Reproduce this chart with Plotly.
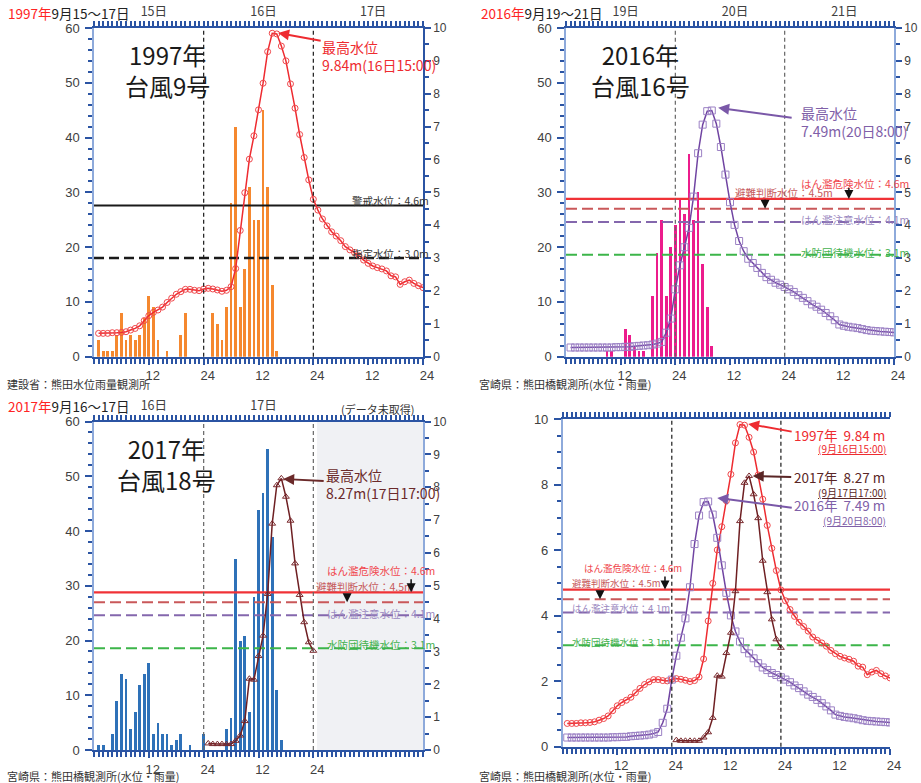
import plotly.graph_objects as go

W, H = 921, 783

# ---------------- data ----------------
hours = list(range(1, 73))
hours_2017 = list(range(25, 49))

level_1997 = [0.71, 0.71, 0.71, 0.73, 0.73, 0.74, 0.76, 0.81, 0.86, 0.94,
              1.10, 1.25, 1.35, 1.42, 1.51, 1.65, 1.78, 1.90, 1.98, 2.05,
              2.05, 2.02, 2.01, 2.06, 2.08, 2.06, 2.03, 1.99, 2.02, 2.13,
              2.68, 3.84, 4.99, 6.01, 6.72, 7.51, 8.32, 9.28, 9.84, 9.82,
              9.45, 9.00, 8.30, 7.56, 6.76, 6.06, 5.38, 4.79, 4.46, 4.19,
              3.98, 3.80, 3.67, 3.53, 3.35, 3.25, 3.17, 3.07, 2.94, 2.84,
              2.76, 2.71, 2.67, 2.61, 2.46, 2.43, 2.20, 2.28, 2.33, 2.23,
              2.16, 2.10]

level_2016 = [0.28, 0.28, 0.28, 0.28, 0.28, 0.28, 0.28, 0.28, 0.28, 0.28,
              0.29, 0.29, 0.30, 0.30, 0.32, 0.33, 0.34, 0.35, 0.37, 0.40,
              0.45, 0.73, 1.16, 2.05, 2.78, 3.33, 3.92, 4.87, 6.19, 7.06,
              7.47, 7.49, 7.09, 6.38, 5.54, 4.70, 4.01, 3.52, 3.21, 2.98,
              2.85, 2.70, 2.55, 2.42, 2.34, 2.25, 2.19, 2.12, 2.05, 1.97,
              1.87, 1.79, 1.69, 1.59, 1.52, 1.43, 1.33, 1.23, 1.11, 0.98,
              0.94, 0.91, 0.89, 0.87, 0.84, 0.81, 0.79, 0.78, 0.77, 0.76,
              0.75, 0.74]

level_2017 = [0.20, 0.18, 0.18, 0.18, 0.18, 0.18, 0.28, 0.44, 0.88, 2.17,
              2.14, 2.86, 3.48, 4.75, 6.89, 8.06, 8.27, 7.71, 6.98, 5.68,
              4.72, 3.89, 3.28, 3.02]

rain_1997 = [3, 1, 1, 1, 4, 8, 3, 4, 3, 4,
             7, 11, 9, 3, 0, 1, 0, 0, 4, 8,
             0, 0, 0, 0, 0, 8, 6, 3, 9, 28,
             42, 9, 16, 31, 25, 25, 45, 31, 13, 1,
             0, 0, 0, 0, 0, 0, 0, 0, 0, 0,
             0, 0, 0, 0, 0, 0, 0, 0, 0, 0,
             0, 0, 0, 0, 0, 0, 0, 0, 0, 0,
             0, 0]

rain_2016 = [0, 0, 0, 0, 0, 0, 0, 0, 1, 1,
             0, 0, 5, 4, 2, 1, 1, 0, 11, 19,
             25, 11, 20, 24, 29, 26, 37, 25, 30, 17,
             9, 2, 0, 0, 0, 0, 0, 0, 0, 0,
             0, 0, 0, 0, 0, 0, 0, 0, 0, 0,
             0, 0, 0, 0, 0, 0, 0, 0, 0, 0,
             0, 0, 0, 0, 0, 0, 0, 0, 0, 0,
             0, 0]

rain_2017 = [1, 1, 0, 3, 9, 14, 13, 4, 7, 12,
             14, 16, 3, 5, 3, 3, 1, 2, 3, 0,
             1, 0, 0, 3, 0, 0, 0, 0, 4, 6,
             35, 20, 21, 7, 28, 44, 47, 55, 39, 11,
             2, 0, 0, 0, 0, 0, 0, 0, 0, 0,
             0, 0, 0, 0, 0, 0, 0, 0, 0, 0,
             0, 0, 0, 0, 0, 0, 0, 0, 0, 0,
             0, 0]

x_range = [0, 72]
hour_tick_vals = [12, 24, 36, 48, 60, 72]
hour_tick_text = ["12", "24", "12", "24", "12", "24"]
hour_tick_vals_2017 = [12, 24, 36, 48]
hour_tick_text_2017 = ["12", "24", "12", "24"]
day_tick_vals = [12, 36, 60]
days_1997 = ["15日", "16日", "17日"]
days_2016 = ["19日", "20日", "21日"]
days_2017 = ["16日", "17日", ""]
day_boundaries = [24, 48]
rain_range = [0, 60]
level_range = [0, 10]

lines_1997 = [4.6, 3.0]                 # 警戒水位, 指定水位
lines_kumata = [4.8, 4.5, 4.1, 3.1]     # はん濫危険, 避難判断, はん濫注意, 水防団待機
no_data_start_2017 = 48.8

# ---------------- styles ----------------
BLUE = "#2b54a3"
LBLUE = "#8eaadb"
RED = "#ee2b30"
PURPLE = "#7044a2"
PURPLE_MK = "#9b80c4"
MAROON = "#6e1f22"
ORANGE = "#f5882f"
MAGENTA = "#ec1c8c"
BARBLUE = "#2e71b8"
JP = "Noto Sans CJK JP"
TICKFONT = dict(family="Liberation Sans, Arial, sans-serif", size=13, color="#404040")
RTICKFONT = dict(family="Liberation Sans, Arial, sans-serif", size=12, color="#404040")

kumata_line_styles = [
    dict(color="#f03236", width=2.2, dash="solid"),
    dict(color="#c9585a", width=2, dash="11px,5px"),
    dict(color="#8467ad", width=2, dash="11px,5px"),
    dict(color="#3cb54a", width=2, dash="11px,5px"),
]
line_1997_styles = [
    dict(color="#1a1a1a", width=2, dash="solid"),
    dict(color="#1a1a1a", width=2.5, dash="10px,5px"),
]


def xn(n):
    return "x" if n == 1 else f"x{n}"


def yn(n):
    return "y" if n == 1 else f"y{n}"


def key(letter, n):
    return f"{letter}axis" if n == 1 else f"{letter}axis{n}"


fig = go.Figure()
layout = dict(width=W, height=H, autosize=False,
              margin=dict(l=0, r=0, t=0, b=0, pad=0, autoexpand=False),
              paper_bgcolor="white", plot_bgcolor="white", showlegend=False,
              bargap=0)
shapes = []
annotations = []


def minor(dtick, ln):
    return dict(ticks="outside", tickmode="linear", tick0=0, dtick=dtick,
                ticklen=ln, tickwidth=2, tickcolor=BLUE, showgrid=False)


def setup_panel(p, box, left, right, top_text, vcolor, right_line,
                tvals=hour_tick_vals, ttext=hour_tick_text):
    bx, tx, ly, ry = 2 * p - 1, 2 * p, 2 * p - 1, 2 * p
    x0, y0, x1, y1 = box
    layout[key("x", bx)] = dict(
        domain=[x0 / W, x1 / W], anchor=yn(ly), range=x_range,
        tickmode="array", tickvals=tvals, ticktext=ttext,
        ticks="outside", ticklen=6, tickwidth=2, tickcolor=BLUE,
        minor=minor(1, 5), showline=True, linecolor=BLUE, linewidth=2,
        showgrid=False, zeroline=False, tickfont=TICKFONT, ticklabelshift=4,
        fixedrange=True, automargin=False)
    layout[key("x", tx)] = dict(
        overlaying=xn(bx), side="top", anchor=yn(ly), range=x_range,
        tickmode="array", tickvals=day_tick_vals, ticktext=top_text,
        showticklabels=top_text is not None,
        ticks="outside", ticklen=5, tickwidth=2, tickcolor=BLUE,
        minor=minor(1, 5), showline=True, linecolor=BLUE, linewidth=2,
        showgrid=False, zeroline=False,
        tickfont=dict(family=JP, size=12.5, color="#404040"), ticklabelshift=5,
        fixedrange=True, automargin=False)
    layout[key("y", ly)] = dict(
        domain=[1 - y1 / H, 1 - y0 / H], anchor=xn(bx), range=left["range"],
        tickmode="linear", tick0=0, dtick=left["dtick"], ticks="outside",
        ticklen=7, tickwidth=2, tickcolor=BLUE, minor=minor(left["minor"], 4),
        showline=True, linecolor=LBLUE, linewidth=1.5, showgrid=False,
        zeroline=False, tickfont=TICKFONT, ticklabelstandoff=3, fixedrange=True,
        automargin=False)
    layout[key("y", ry)] = dict(
        overlaying=yn(ly), side="right", anchor=xn(bx), range=right["range"],
        tickmode="linear", tick0=0, dtick=right["dtick"], ticks="outside",
        ticklen=6, tickwidth=2, tickcolor=BLUE, minor=minor(right["minor"], 4),
        showticklabels=right["labels"],
        showline=True, linecolor=right_line, linewidth=1.5, showgrid=False,
        zeroline=False, tickfont=RTICKFONT, fixedrange=True, automargin=False)
    for d in day_boundaries:
        shapes.append(dict(type="line", xref=xn(bx), yref=f"{yn(ly)} domain",
                           x0=d, x1=d, y0=0, y1=1, layer="above",
                           line=dict(color=vcolor, width=1.2, dash="4px,3px")))
    # keep top axis bound to a trace
    fig.add_trace(go.Scatter(x=[], y=[], xaxis=xn(tx), yaxis=yn(ly),
                             hoverinfo="skip", showlegend=False))
    return bx, ly, ry


RAIN_L = dict(range=rain_range, dtick=10, minor=2)
LEVEL_R = dict(range=level_range, dtick=1, minor=0.5, labels=True)


def thresholds(bx, yax, values, styles):
    for v, st in zip(values, styles):
        fig.add_trace(go.Scatter(x=x_range, y=[v, v], mode="lines", line=st,
                                 xaxis=xn(bx), yaxis=yn(yax), hoverinfo="skip"))


def level_trace(bx, yax, xs, ys, color, mk, mkcolor, size):
    fig.add_trace(go.Scatter(
        x=xs, y=ys, mode="lines+markers", line=dict(color=color, width=1.5),
        marker=dict(symbol=mk, size=size, color=mkcolor, line=dict(width=1, color=mkcolor)),
        xaxis=xn(bx), yaxis=yn(yax), hoverinfo="skip"))


def rain_trace(bx, yax, ys, color):
    fig.add_trace(go.Bar(x=hours, y=ys, width=0.6, marker=dict(color=color, line=dict(width=0)),
                         xaxis=xn(bx), yaxis=yn(yax), hoverinfo="skip"))


# ---------- Panel 1 : 1997 ----------
bx, ly, ry = setup_panel(1, (94, 28, 423, 356.7), RAIN_L, LEVEL_R, days_1997, "#1a1a1a", BLUE)
rain_trace(bx, ly, rain_1997, ORANGE)
thresholds(bx, ry, lines_1997, line_1997_styles)
level_trace(bx, ry, hours, level_1997, RED, "circle-open", "#f0474b", 6)

# ---------- Panel 2 : 2016 ----------
bx, ly, ry = setup_panel(2, (566, 28, 894, 356.7), RAIN_L, LEVEL_R, days_2016, "#666666", LBLUE)
rain_trace(bx, ly, rain_2016, MAGENTA)
thresholds(bx, ry, lines_kumata, kumata_line_styles)
level_trace(bx, ry, hours, level_2016, PURPLE, "square-open", PURPLE_MK, 7)

# ---------- Panel 3 : 2017 ----------
bx, ly, ry = setup_panel(3, (94, 421.5, 423, 750), RAIN_L, LEVEL_R, days_2017, "#666666", LBLUE,
                         tvals=hour_tick_vals_2017, ttext=hour_tick_text_2017)
shapes.insert(0, dict(type="rect", xref=xn(bx), yref=f"{yn(ly)} domain",
                      x0=no_data_start_2017, x1=x_range[1], y0=0, y1=1, layer="below",
                      fillcolor="#f0f1f4", line=dict(width=0)))
rain_trace(bx, ly, rain_2017, BARBLUE)
thresholds(bx, ry, lines_kumata, kumata_line_styles)
level_trace(bx, ry, hours_2017, level_2017, MAROON, "triangle-up-open", "#7a2a2e", 6)

# ---------- Panel 4 : comparison ----------
bx, ly, ry = setup_panel(4, (562.7, 419.3, 890, 746.7),
                         dict(range=level_range, dtick=2, minor=0.5),
                         dict(range=level_range, dtick=1, minor=0.5, labels=False),
                         None, "#1a1a1a", LBLUE)
thresholds(bx, ly, lines_kumata, kumata_line_styles)
level_trace(bx, ly, hours, level_1997, RED, "circle-open", "#f0474b", 6)
level_trace(bx, ly, hours, level_2016, PURPLE, "square-open", PURPLE_MK, 7)
level_trace(bx, ly, hours_2017, level_2017, MAROON, "triangle-up-open", "#7a2a2e", 6)


# ---------------- annotations ----------------
def ptext(x, y, text, size, color, xanchor="left", family=JP, **kw):
    annotations.append(dict(xref="paper", yref="paper", x=x / W, y=1 - y / H, text=text,
                            showarrow=False, xanchor=xanchor, yanchor="middle",
                            align=xanchor if xanchor != "center" else "center",
                            borderpad=0,
                            font=dict(family=family, size=size, color=color, **kw)))


def arrow(xref, yref, x, y, ax, ay, color, width=2, size=1.1):
    annotations.append(dict(xref=xref, yref=yref, x=x, y=y, ax=ax, ay=ay,
                            axref="pixel", ayref="pixel", text=" ", font=dict(size=1),
                            showarrow=True, arrowhead=2, arrowsize=size,
                            arrowwidth=width, arrowcolor=color, standoff=0))


# headers
ptext(7, 13, "<span style='color:#ff2424'>1997年</span>9月15～17日", 13.5, "#222")
ptext(480, 13, "<span style='color:#ff2424'>2016年</span>9月19～21日", 13.5, "#222")
ptext(7, 406, "<span style='color:#ff2424'>2017年</span>9月16～17日", 13.5, "#222")
ptext(377, 409, "(データ未取得)", 11, "#333", xanchor="center")

# footers
ptext(6, 383.5, "建設省：熊田水位雨量観測所", 11, "#333")
ptext(478, 383.5, "宮崎県：熊田橋観測所(水位・雨量)", 11, "#333")
ptext(6, 776, "宮崎県：熊田橋観測所(水位・雨量)", 11, "#333")
ptext(478, 775.5, "宮崎県：熊田橋観測所(水位・雨量)", 11, "#333")

# big titles
ptext(167, 70, "1997年<br>台風9号", 24, "#1a1a1a", xanchor="center")
ptext(640, 70, "2016年<br>台風16号", 24, "#1a1a1a", xanchor="center")
ptext(166, 464, "2017年<br>台風18号", 24, "#1a1a1a", xanchor="center")

# peak annotations panels 1-3
ptext(321, 56, "最高水位<br>9.84m(16日15:00)", 14, RED)
arrow("x", "y2", 40.3, 9.85, 44, 8, RED)
ptext(800, 122, "最高水位<br>7.49m(20日8:00)", 14, "#8060a8")
arrow("x3", "y4", 33.4, 7.57, 75, 10, "#7a58a8")
ptext(325, 484, "最高水位<br>8.27m(17日17:00)", 14, "#6b2a2a")
arrow("x5", "y6", 41.4, 8.25, 42, 2, "#6b2a2a")

# threshold labels panel 1
ptext(430, 201, "警戒水位：4.6m", 10.5, "#333", xanchor="right")
ptext(430, 254, "指定水位：3.0m", 10.5, "#333", xanchor="right")

# threshold labels panels 2 & 3
LBL_RED, LBL_EVAC, LBL_PUR, LBL_GRN = "#f0484e", "#c65a5c", "#9a88c0", "#43b14e"
ptext(910, 183.5, "はん濫危険水位：4.6m", 10.5, LBL_RED, xanchor="right")
ptext(834, 192.5, "避難判断水位：4.5m", 10.5, LBL_EVAC, xanchor="right")
ptext(910, 219.5, "はん濫注意水位：4.1m", 10.5, LBL_PUR, xanchor="right")
ptext(910, 252, "水防団待機水位：3.1m", 10.5, LBL_GRN, xanchor="right")
arrow("x3", "y4", 62.1, 4.8, 0, -13, "#111", width=1.5, size=1.2)
arrow("x3", "y4", 43.7, 4.5, 0, -11, "#111", width=1.5, size=1.2)

ptext(436, 570, "はん濫危険水位：4.6m", 10.5, LBL_RED, xanchor="right")
ptext(415, 586.5, "避難判断水位：4.5m", 10.5, LBL_EVAC, xanchor="right")
ptext(436, 613, "はん濫注意水位：4.1m", 10.5, LBL_PUR, xanchor="right")
ptext(436, 644.5, "水防団待機水位：3.1m", 10.5, LBL_GRN, xanchor="right")
arrow("x5", "y6", 69.4, 4.8, 0, -15, "#111", width=1.5, size=1.2)
arrow("x5", "y6", 55.4, 4.5, 0, -10, "#111", width=1.5, size=1.2)

# threshold labels panel 4
ptext(582.5, 567.5, "はん濫危険水位：4.6m", 9.5, LBL_RED)
ptext(571, 582.5, "避難判断水位：4.5m", 9.5, LBL_EVAC)
ptext(571, 608, "はん濫注意水位：4.1m", 9.5, LBL_PUR)
ptext(571, 641.5, "水防団待機水位：3.1m", 9.5, LBL_GRN)
arrow("x7", "y7", 22.5, 4.8, 0, -15, "#111", width=1.5, size=1.2)
arrow("x7", "y7", 8.2, 4.5, 0, -9, "#111", width=1.5, size=1.2)

# peak labels panel 4
ptext(793, 435, "1997年\u00a0\u00a09.84\u00a0m", 13.5, RED)
ptext(887, 448.5, "(9月16日15:00)", 10, RED, xanchor="right", lineposition="under")
arrow("x7", "y7", 40.8, 9.86, 45, 8, RED)
ptext(793, 477, "2017年\u00a0\u00a08.27\u00a0m", 13.5, "#5a2626")
ptext(887, 492, "(9月17日17:00)", 10, "#5a2626", xanchor="right", lineposition="under")
arrow("x7", "y7", 41.8, 8.27, 40, 1, "#5a2626")
ptext(793, 505, "2016年\u00a0\u00a07.49\u00a0m", 13.5, "#8060a8")
ptext(887, 520, "(9月20日8:00)", 10, "#8060a8", xanchor="right", lineposition="under")
arrow("x7", "y7", 34.0, 7.6, 76, 10, "#7a58a8")

layout["shapes"] = shapes
layout["annotations"] = annotations
fig.update_layout(**layout)
fig.write_html("out.html", config={"displayModeBar": False},
               post_script="document.body.style.margin='0px';document.body.style.overflow='hidden';")
